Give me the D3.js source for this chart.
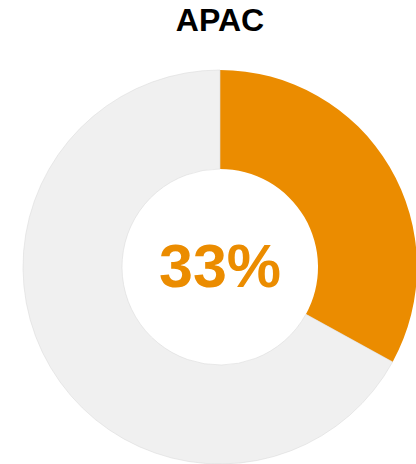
<!DOCTYPE html>
<html>
<head>
<meta charset="utf-8">
<script src="https://cdn.jsdelivr.net/npm/d3@7"></script>
<style>
  html, body { margin: 0; padding: 0; background: #fff; }
  svg { display: block; }
</style>
</head>
<body>
<svg id="chart" width="416" height="464"></svg>
<script>
// Regional share shown as a donut
const title = "APAC";
const categories = ["APAC", "Other"];
const values = [33, 67];
const colors = ["#eb8c00", "#f0f0f0"];

const width = 416, height = 464;
const cx = 220, cy = 267;
const outerR = 197, innerR = 98;

const svg = d3.select("#chart");

svg.append("text")
  .attr("x", cx)
  .attr("y", 31)
  .attr("text-anchor", "middle")
  .attr("font-family", "Liberation Sans, Arial, sans-serif")
  .attr("font-weight", "bold")
  .attr("font-size", 32)
  .attr("fill", "#000")
  .text(title);

const pie = d3.pie().sort(null).value(d => d.value);
const arc = d3.arc().innerRadius(innerR).outerRadius(outerR);

const data = categories.map((c, i) => ({ name: c, value: values[i], color: colors[i] }));

const g = svg.append("g").attr("transform", `translate(${cx},${cy})`);

g.selectAll("path")
  .data(pie(data))
  .join("path")
  .attr("d", arc)
  .attr("fill", d => d.data.color)
  .attr("stroke", d => d.data.name === "Other" ? "#dcdcdc" : "none")
  .attr("stroke-width", 0.6);

const total = d3.sum(values);
g.append("text")
  .attr("x", 0)
  .attr("y", 20)
  .attr("text-anchor", "middle")
  .attr("font-family", "Liberation Sans, Arial, sans-serif")
  .attr("font-weight", "bold")
  .attr("font-size", 61)
  .attr("fill", colors[0])
  .text(d3.format(".0%")(values[0] / total));
</script>
</body>
</html>
